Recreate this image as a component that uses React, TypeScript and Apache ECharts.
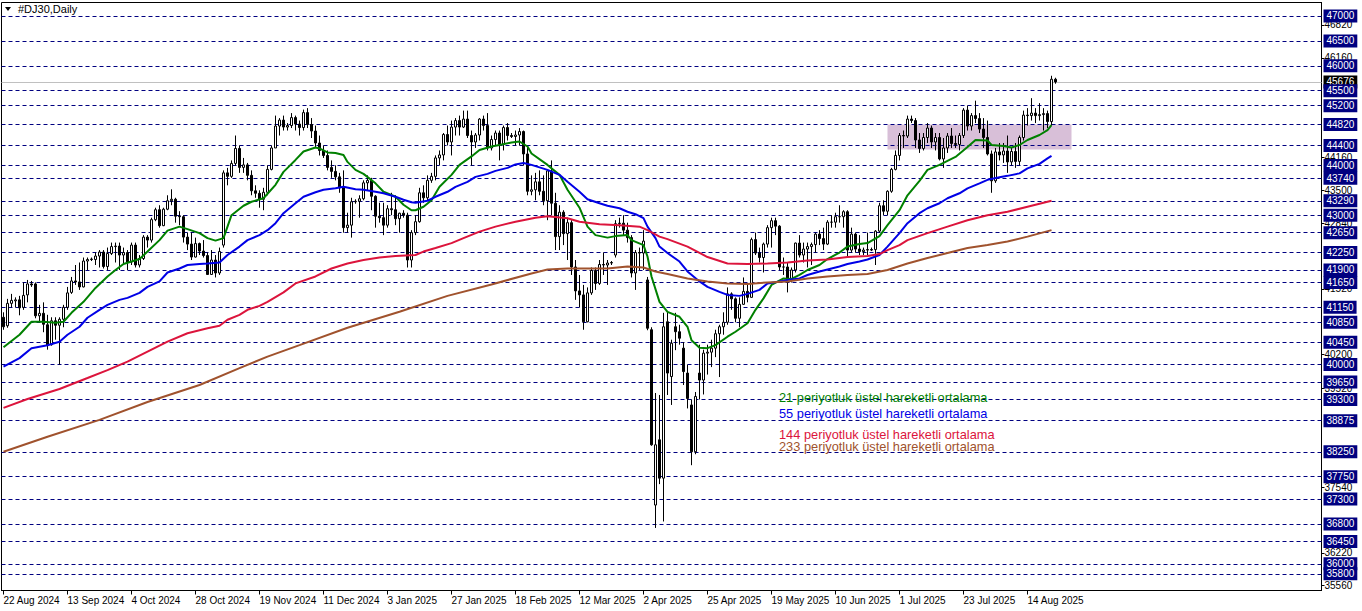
import React, { useEffect, useRef } from 'react';
import * as echarts from 'echarts';

// ---------- data ----------
const dateLabels = ['22 Aug 2024', '13 Sep 2024', '4 Oct 2024', '28 Oct 2024', '19 Nov 2024', '11 Dec 2024', '3 Jan 2025', '27 Jan 2025', '18 Feb 2025', '12 Mar 2025', '2 Apr 2025', '25 Apr 2025', '19 May 2025', '10 Jun 2025', '1 Jul 2025', '23 Jul 2025', '14 Aug 2025'];
const labelEvery = 16;
const slotCount = 330;

const levelLines = [47000, 46500, 46000, 45500, 45200, 44820, 44400, 44000, 43740, 43290, 43000, 42650, 42250, 41900, 41650, 41150, 40850, 40450, 40000, 39650, 39300, 38875, 38250, 37750, 37300, 36800, 36450, 36000, 35800];
const scaleLabels = [46820, 46160, 44160, 43500, 42840, 41520, 40200, 39520, 37540, 36220, 35560];
const bidPrice = 45676;
const priceMin = 35464;
const priceMax = 47271;
const zoneLow = 44320;
const zoneHigh = 44820;
const zoneStart = 221;
const zoneEnd = 267;

// [open, close, low, high]
const ohlc = [
  [40950, 40760, 40700, 41050], [40780, 41230, 40740, 41320], [41230, 41290, 41150, 41420], [41280, 41300, 41150, 41350], [41300, 41140, 40990, 41380],
  [41150, 41390, 41100, 41650], [41400, 41620, 41250, 41700], [41620, 41600, 41560, 41680], [41620, 40980, 40930, 41650], [40980, 41030, 40850, 41200],
  [41030, 40810, 40650, 41250], [40800, 40390, 40300, 41000], [40400, 40880, 40380, 40950], [40880, 40790, 40500, 40950], [40790, 40910, 40000, 40950],
  [40910, 41150, 40750, 41200], [41150, 41440, 41100, 41560], [41450, 41680, 41420, 41760], [41680, 41660, 41600, 42000], [41660, 41560, 41500, 42050],
  [41560, 42080, 41550, 42150], [42080, 42110, 41900, 42150], [42110, 42120, 42080, 42150], [42110, 42180, 42000, 42250], [42180, 42260, 41950, 42300],
  [42260, 41970, 41930, 42300], [41970, 42230, 41900, 42350], [42230, 42370, 42200, 42450], [42370, 42380, 42050, 42450], [42380, 42200, 41900, 42450],
  [42200, 42250, 42000, 42350], [42250, 42060, 41900, 42300], [42060, 42400, 42000, 42450], [42400, 42000, 41950, 42450], [42000, 42130, 41950, 42200],
  [42130, 42560, 42100, 42600], [42560, 42500, 42350, 42600], [42500, 42910, 42450, 42950], [42910, 43110, 42880, 43150], [43110, 42790, 42750, 43200],
  [42790, 43120, 42780, 43150], [43120, 43290, 43100, 43400], [43290, 43320, 43200, 43520], [43320, 42980, 42850, 43350], [42980, 42970, 42800, 43080],
  [42970, 42560, 42450, 43000], [42560, 42420, 42300, 42650], [42420, 42160, 42100, 42650], [42160, 42430, 42150, 42550], [42430, 42280, 42200, 42450],
  [42280, 42190, 42150, 42500], [42190, 41810, 41800, 42250], [41810, 42100, 41800, 42300], [42100, 41840, 41750, 42200], [41840, 42270, 41800, 42350],
  [42400, 43850, 42350, 43900], [43850, 43780, 43600, 43950], [43780, 44040, 43750, 44100], [44040, 44340, 44000, 44600], [44340, 43960, 43850, 44400],
  [43960, 44010, 43850, 44150], [44010, 43800, 43700, 44050], [43800, 43490, 43400, 43900], [43490, 43440, 43350, 43600], [43440, 43320, 43150, 43500],
  [43320, 43460, 43100, 43550], [43460, 43920, 43400, 44000], [43920, 44350, 43900, 44400], [44350, 44790, 44350, 45000], [44790, 44910, 44600, 44950],
  [44910, 44770, 44700, 45000], [44770, 44800, 44700, 44850], [44800, 44960, 44750, 45050], [44960, 44830, 44700, 45000], [44830, 44760, 44600, 44900],
  [44760, 45060, 44700, 45120], [45060, 44820, 44750, 45150], [44820, 44690, 44550, 44950], [44690, 44450, 44350, 44800], [44450, 44300, 44200, 44600],
  [44300, 44200, 44150, 44400], [44200, 43960, 43900, 44300], [43960, 43880, 43750, 44100], [43880, 43770, 43700, 44000], [43770, 43550, 43450, 43850],
  [43550, 42750, 42650, 43900], [42750, 42800, 42650, 43050], [42800, 43270, 42550, 43350], [43270, 43280, 43230, 43320], [43280, 43330, 42950, 43400],
  [43330, 43650, 43300, 43700], [43650, 43700, 43500, 43800], [43700, 43380, 43100, 43750], [43380, 42980, 42750, 43400], [42980, 42950, 42850, 43250],
  [42950, 42800, 42600, 43250], [42800, 43130, 42750, 43200], [43130, 43110, 43000, 43450], [43110, 42930, 42800, 43400], [42930, 43040, 42650, 43050],
  [43040, 43000, 42950, 43100], [43000, 42100, 41950, 43050], [42100, 42650, 41950, 42700], [42650, 42870, 42600, 43000], [42870, 43450, 42850, 43550],
  [43450, 43350, 43250, 43600], [43350, 43700, 43300, 43800], [43700, 43780, 43650, 43850], [43780, 44150, 43700, 44200], [44150, 44210, 44000, 44300],
  [44210, 44620, 44100, 44650], [44620, 44470, 44400, 44800], [44470, 44770, 44200, 44900], [44770, 44900, 44600, 44950], [44900, 44770, 44600, 45000],
  [44770, 44930, 44750, 45100], [44930, 44600, 44550, 45100], [44600, 44470, 44000, 44700], [44470, 44610, 44350, 44650], [44610, 44930, 44500, 44950],
  [44930, 44800, 44700, 45000], [44800, 44350, 44300, 45050], [44350, 44520, 44300, 44600], [44520, 44650, 44400, 44700], [44650, 44420, 44100, 44700],
  [44420, 44760, 44300, 44800], [44760, 44600, 44500, 44850], [44600, 44580, 44550, 44650], [44580, 44610, 44400, 44700], [44610, 44680, 44400, 44750],
  [44680, 44230, 44000, 44700], [44230, 43480, 43400, 44350], [43480, 43510, 43400, 43800], [43510, 43670, 43300, 43850], [43670, 43480, 43400, 43900],
  [43480, 43290, 43200, 43800], [43290, 43890, 42900, 43900], [43890, 43240, 43000, 44100], [43240, 42570, 42300, 43450], [42570, 43060, 42300, 43200],
  [43060, 42630, 42400, 43100], [42630, 42850, 42100, 42950], [42850, 41960, 41800, 42900], [41960, 41480, 41300, 42100], [41480, 41400, 41150, 41800],
  [41400, 40860, 40700, 41600], [40860, 41440, 40850, 41550], [41440, 41890, 41400, 41950], [41890, 41630, 41500, 41950], [41630, 42010, 41600, 42100],
  [42010, 42000, 41800, 42250], [42000, 42040, 41600, 42100], [42040, 42050, 42000, 42080], [42200, 42830, 42150, 42900], [42830, 42840, 42750, 42950],
  [42840, 42700, 42600, 43000], [42700, 42550, 42450, 42850], [42550, 41840, 41750, 42600], [41840, 42250, 41500, 42300], [42250, 42240, 41900, 42350],
  [42240, 42480, 41900, 42700], [41700, 40730, 40690, 41760], [40700, 38390, 38370, 40750], [37180, 38390, 36720, 39430], [38490, 37720, 37600, 39390],
  [37720, 40760, 36850, 41040], [40860, 39830, 39390, 41060], [39760, 40430, 39190, 40500], [40760, 40660, 40290, 41040], [40660, 40530, 40400, 40800],
  [40330, 39860, 39590, 40450], [39830, 39320, 39120, 40000], [39190, 38250, 37980, 39300], [38250, 39360, 38200, 39450], [39830, 39690, 39300, 40400],
  [39690, 40230, 39400, 40300], [40230, 40250, 39800, 40400], [40250, 40330, 39950, 40500], [40330, 40620, 40150, 40700], [40620, 40760, 39750, 40800],
  [40760, 40850, 40600, 41050], [40850, 41420, 40800, 41550], [41420, 41320, 41100, 41450], [41320, 40930, 40850, 41350], [40930, 41210, 40750, 41350],
  [41210, 41470, 41200, 41750], [41470, 41350, 41250, 41600], [41350, 42510, 41350, 42550], [42510, 42240, 42200, 42650], [42240, 42150, 42050, 42350],
  [42150, 42420, 41850, 42450], [42420, 42750, 42350, 42800], [42750, 42890, 42350, 42950], [42890, 42780, 42600, 42950], [42780, 41960, 41900, 42800],
  [41960, 41960, 41800, 42150], [41960, 41700, 41450, 42050], [41700, 41900, 41650, 41950], [41900, 42440, 41850, 42450], [42440, 42200, 42150, 42600],
  [42200, 42320, 42050, 42450], [42320, 42370, 41950, 42450], [42370, 42410, 42000, 42450], [42410, 42620, 42250, 42650], [42620, 42530, 42400, 42700],
  [42530, 42420, 42300, 42750], [42420, 42860, 42400, 42900], [42860, 42860, 42750, 43000], [42860, 42970, 42750, 43050], [42970, 42970, 42850, 43200],
  [42970, 43070, 42750, 43100], [43070, 42300, 42150, 43100], [42300, 42620, 42250, 42750], [42620, 42320, 42250, 42650], [42320, 42270, 42200, 42600],
  [42270, 42300, 42200, 42350], [42300, 42310, 42200, 42650], [42310, 42300, 42280, 42350], [42310, 42680, 42000, 42700], [42680, 43190, 42650, 43250],
  [43190, 43080, 43000, 43300], [43080, 43480, 43000, 43500], [43480, 43920, 43450, 43950], [43920, 44200, 43900, 44300], [44200, 44600, 44100, 44650],
  [44600, 44590, 44350, 44700], [44590, 44930, 44550, 45000], [44930, 44900, 44850, 45000], [44900, 44510, 44350, 44950], [44510, 44340, 44250, 44650],
  [44340, 44560, 44300, 44650], [44560, 44750, 44450, 44850], [44750, 44470, 44350, 44800], [44470, 44560, 44300, 44650], [44560, 44130, 44100, 44650],
  [44130, 44350, 43950, 44550], [44350, 44590, 44250, 44650], [44590, 44440, 44350, 44750], [44440, 44420, 44350, 44600], [44420, 44600, 44300, 44650],
  [44600, 45110, 44550, 45150], [45110, 44790, 44700, 45200], [44790, 45000, 44700, 45050], [45000, 44940, 44850, 45300], [44940, 44730, 44650, 45050],
  [44730, 44560, 44350, 44950], [44560, 44230, 44200, 44900], [44230, 43690, 43450, 44300], [43690, 44270, 43650, 44350], [44270, 44210, 44100, 44450],
  [44210, 44290, 44050, 44450], [44290, 44070, 43850, 44600], [44070, 44280, 44000, 44350], [44280, 44080, 43950, 44450], [44080, 44560, 44000, 44600],
  [44560, 45010, 44500, 45100], [45010, 45000, 44800, 45150], [45000, 45050, 44900, 45350], [45050, 45000, 44850, 45150], [45000, 45020, 44900, 45250],
  [45020, 45040, 44700, 45150], [45040, 44880, 44750, 45100], [44880, 45730, 44800, 45800], [45730, 45676, 45640, 45760]
];

// moving averages: [bar index, value]
const ema21 = [[0, 40350], [4, 40600], [7, 40860], [10, 40860], [13, 40840], [15, 40860], [17, 41040], [20, 41260], [23, 41540], [26, 41770], [28, 41900], [30, 42020], [34, 42120], [36, 42270], [39, 42500], [41, 42690], [44, 42770], [46, 42720], [49, 42640], [51, 42540], [53, 42490], [55, 42540], [57, 43000], [60, 43190], [62, 43270], [65, 43340], [68, 43610], [70, 43870], [73, 44110], [75, 44280], [78, 44360], [79, 44340], [81, 44260], [83, 44250], [85, 44210], [86, 44070], [88, 43910], [90, 43830], [93, 43640], [95, 43470], [98, 43370], [100, 43210], [102, 43100], [103, 43100], [105, 43170], [107, 43300], [109, 43570], [112, 43810], [114, 44010], [117, 44180], [119, 44310], [122, 44380], [124, 44410], [127, 44460], [129, 44480], [131, 44380], [132, 44240], [136, 44010], [139, 43810], [141, 43510], [144, 43150], [146, 42770], [148, 42600], [151, 42550], [153, 42580], [156, 42600], [157, 42500], [160, 42400], [161, 42170], [162, 41770], [164, 41260], [166, 41060], [169, 40960], [171, 40760], [172, 40490], [174, 40340], [176, 40330], [178, 40390], [181, 40560], [183, 40660], [186, 40830], [188, 41100], [190, 41330], [192, 41600], [195, 41730], [197, 41720], [199, 41800], [201, 41900], [204, 42000], [206, 42120], [209, 42250], [211, 42370], [214, 42420], [216, 42440], [219, 42580], [221, 42800], [224, 43100], [226, 43400], [229, 43690], [231, 43910], [234, 44010], [236, 44090], [238, 44170], [241, 44370], [243, 44510], [246, 44500], [247, 44410], [250, 44390], [252, 44360], [254, 44410], [256, 44510], [259, 44610], [261, 44710], [262, 44810]];
const ema55 = [[0, 39960], [4, 40130], [7, 40330], [11, 40390], [14, 40460], [16, 40600], [19, 40760], [21, 40940], [24, 41100], [26, 41200], [29, 41300], [31, 41340], [34, 41440], [36, 41560], [39, 41670], [41, 41850], [44, 41930], [46, 42000], [49, 42020], [51, 42030], [54, 42050], [56, 42200], [59, 42370], [61, 42500], [64, 42600], [66, 42700], [68, 42840], [70, 43040], [73, 43240], [75, 43370], [78, 43460], [80, 43510], [83, 43540], [85, 43570], [88, 43520], [90, 43510], [93, 43470], [95, 43440], [98, 43370], [100, 43310], [102, 43260], [103, 43250], [106, 43290], [108, 43370], [111, 43470], [113, 43570], [116, 43670], [118, 43770], [121, 43830], [123, 43890], [126, 43950], [128, 44020], [130, 44050], [132, 44010], [136, 43910], [139, 43810], [141, 43670], [144, 43470], [146, 43320], [149, 43240], [151, 43190], [154, 43140], [156, 43070], [158, 43020], [160, 42940], [161, 42770], [163, 42540], [164, 42370], [166, 42240], [169, 42070], [171, 41870], [174, 41670], [176, 41560], [179, 41460], [181, 41400], [184, 41380], [186, 41420], [189, 41500], [191, 41630], [194, 41670], [196, 41700], [199, 41730], [201, 41800], [204, 41870], [206, 41910], [209, 41970], [211, 42020], [214, 42070], [216, 42110], [219, 42200], [221, 42370], [224, 42640], [226, 42840], [229, 43040], [231, 43140], [234, 43240], [236, 43340], [239, 43440], [241, 43540], [244, 43640], [246, 43710], [249, 43760], [251, 43790], [254, 43840], [256, 43940], [259, 44030], [261, 44140], [262, 44190]];
const ema144 = [[0, 39130], [6, 39310], [14, 39510], [21, 39730], [26, 39890], [31, 40060], [36, 40260], [41, 40460], [46, 40630], [51, 40730], [54, 40780], [56, 40900], [59, 41000], [61, 41100], [64, 41180], [66, 41260], [70, 41450], [73, 41630], [78, 41770], [82, 41930], [86, 42030], [90, 42100], [94, 42150], [98, 42180], [103, 42200], [105, 42270], [108, 42340], [112, 42440], [115, 42540], [119, 42670], [123, 42770], [128, 42870], [133, 42950], [136, 42980], [141, 42940], [144, 42870], [149, 42820], [154, 42800], [159, 42770], [161, 42700], [164, 42570], [166, 42520], [171, 42370], [176, 42160], [181, 42030], [186, 42020], [191, 42030], [196, 42050], [201, 42090], [206, 42110], [211, 42160], [216, 42180], [219, 42220], [221, 42300], [224, 42400], [226, 42500], [231, 42640], [236, 42770], [241, 42900], [246, 43000], [251, 43070], [256, 43170], [262, 43290]];
const ema233 = [[0, 38250], [11, 38550], [24, 38890], [36, 39250], [49, 39590], [59, 39930], [66, 40160], [74, 40390], [86, 40740], [99, 41060], [111, 41380], [122, 41610], [132, 41830], [136, 41910], [141, 41930], [151, 41930], [156, 41970], [160, 41950], [163, 41870], [166, 41820], [171, 41730], [176, 41670], [181, 41630], [186, 41620], [191, 41650], [196, 41670], [201, 41730], [206, 41770], [211, 41800], [216, 41820], [221, 41900], [226, 42030], [231, 42140], [236, 42240], [241, 42340], [246, 42400], [251, 42470], [256, 42570], [262, 42700]];

const legendTexts = [
  { text: '21 periyotluk üstel hareketli ortalama', color: '#008000' },
  { text: '55 periyotluk üstel hareketli ortalama', color: '#0000E6' },
  { text: '144 periyotluk üstel hareketli ortalama', color: '#DC143C' },
  { text: '233 periyotluk üstel hareketli ortalama', color: '#A0522D' },
];
const title = '#DJ30,Daily';

const FONT = 'Liberation Sans';
const NAVY = '#000080';

export default function App() {
  const ref = useRef<HTMLDivElement>(null);

  useEffect(() => {
    if (!ref.current) return;
    const chart = echarts.init(ref.current, null, { renderer: 'svg' });
    const showIdx = (i: number) => i % labelEvery === 0 && i / labelEvery < dateLabels.length;
    const boxLabel = (v: number, bg: string) => ({
      show: true,
      position: 'end',
      formatter: String(v),
      backgroundColor: bg,
      color: '#fff',
      padding: [2, 3, 1, 3],
      fontSize: 10,
      fontFamily: FONT,
      distance: 2,
    });
    const legendY = [397, 413, 434, 446];

    const option: any = {
      animation: false,
      backgroundColor: '#fff',
      grid: { left: 1.5, top: 2.5, width: 1320, height: 588, show: true, borderColor: '#000', borderWidth: 1, backgroundColor: '#fff' },
      xAxis: {
        type: 'category',
        data: Array.from({ length: slotCount }, (_, i) => String(i)),
        boundaryGap: true,
        axisLine: { show: true, lineStyle: { color: '#000', width: 1 } },
        axisTick: { show: true, alignWithLabel: true, interval: (i: number) => showIdx(i), length: 4, lineStyle: { color: '#000' } },
        axisLabel: {
          interval: (i: number) => showIdx(i),
          formatter: (_v: string, i: number) => (showIdx(i) ? dateLabels[i / labelEvery] : ''),
          align: 'left',
          margin: 5,
          fontSize: 10,
          fontFamily: FONT,
          color: '#000',
        },
        splitLine: { show: false },
      },
      yAxis: {
        type: 'value',
        position: 'right',
        min: priceMin,
        max: priceMax,
        scale: true,
        splitLine: { show: false },
        axisLine: { show: true, lineStyle: { color: '#000' } },
        axisTick: { show: true, customValues: scaleLabels, length: 3, lineStyle: { color: '#000' } },
        axisLabel: { customValues: scaleLabels, margin: 3, padding: [4, 0, 0, 0], fontSize: 10, fontFamily: FONT, color: '#000', formatter: (v: number) => String(v) },
      },
      series: [
        {
          type: 'candlestick',
          name: 'DJ30',
          data: ohlc,
          barWidth: 3,
          z: 2,
          silent: true,
          itemStyle: { color: '#fff', color0: '#000', borderColor: '#000', borderColor0: '#000', borderWidth: 1 },
          markArea: {
            z: 0,
            silent: true,
            itemStyle: { color: '#D8BFD8' },
            data: [[{ xAxis: zoneStart, yAxis: zoneHigh }, { xAxis: zoneEnd, yAxis: zoneLow }]],
          },
          markLine: {
            z: 1,
            silent: true,
            symbol: ['none', 'none'],
            data: [
              { yAxis: bidPrice, lineStyle: { color: '#C0C0C0', type: 'solid', width: 1 }, label: boxLabel(bidPrice, '#000') },
              ...levelLines.map((v) => ({ yAxis: v, lineStyle: { color: NAVY, type: [4, 3], width: 1 }, label: boxLabel(v, NAVY) })),
            ],
          },
        },
        { type: 'line', name: 'EMA21', data: ema21, showSymbol: false, silent: true, z: 3, lineStyle: { color: '#008000', width: 2 } },
        { type: 'line', name: 'EMA55', data: ema55, showSymbol: false, silent: true, z: 3, lineStyle: { color: '#0000E6', width: 2 } },
        { type: 'line', name: 'EMA144', data: ema144, showSymbol: false, silent: true, z: 3, lineStyle: { color: '#DC143C', width: 2 } },
        { type: 'line', name: 'EMA233', data: ema233, showSymbol: false, silent: true, z: 3, lineStyle: { color: '#A0522D', width: 2 } },
      ],
      graphic: [
        { type: 'polygon', shape: { points: [[5, 7], [11, 7], [8, 11]] }, style: { fill: '#000' }, z: 10 },
        { type: 'text', x: 18, y: 9, style: { text: title, fill: '#000', fontSize: 11, fontFamily: FONT, verticalAlign: 'middle' }, z: 10 },
        ...legendTexts.map((t, k) => ({
          type: 'text',
          x: 779,
          y: legendY[k],
          style: { text: t.text, fill: t.color, fontSize: 12.8, fontFamily: FONT, verticalAlign: 'middle' },
          z: 10,
        })),
      ],
    };
    chart.setOption(option);
    return () => chart.dispose();
  }, []);

  return <div ref={ref} style={{ position: 'absolute', left: 0, top: 0, width: 1362, height: 611, background: '#fff' }} />;
}
